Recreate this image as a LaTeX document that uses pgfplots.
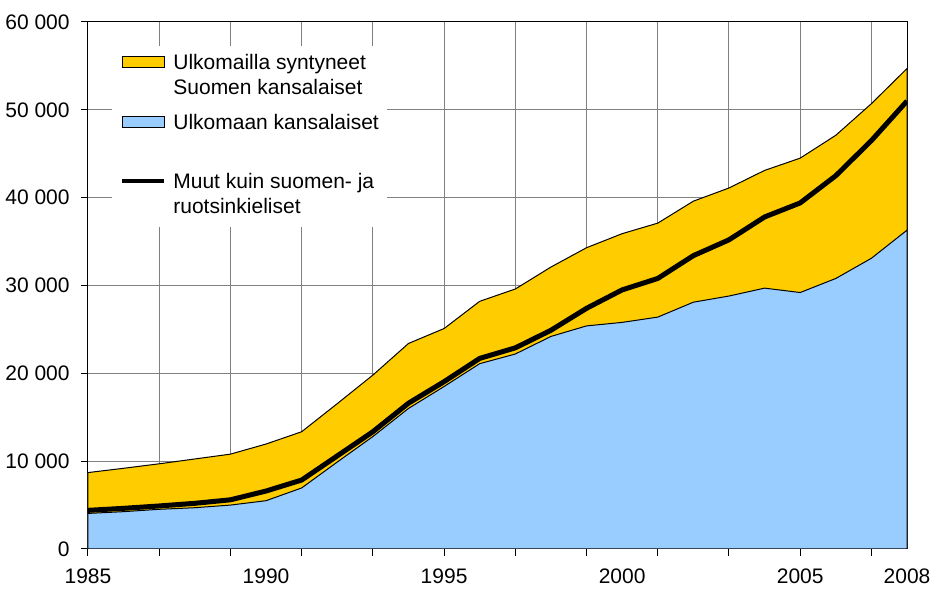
\documentclass[border=0pt]{standalone}
\usepackage{pgfplots}
\pgfplotsset{compat=1.18}
\usepackage{pgfplotstable}
\usepackage{fontspec}
\setmainfont{Liberation Sans}
\definecolor{myyellow}{RGB}{255,204,0}
\definecolor{myblue}{RGB}{153,204,255}
\definecolor{gridgray}{RGB}{128,128,128}

\pgfplotstableread{
year blue yellow black
1985 4050 4650 4400
1986 4250 4940 4630
1987 4520 5180 4900
1988 4700 5550 5200
1989 5000 5800 5600
1990 5500 6450 6600
1991 6950 6400 7850
1992 9900 6650 10600
1993 12800 7000 13350
1994 16000 7400 16600
1995 18500 6600 19050
1996 21100 7100 21700
1997 22200 7400 22900
1998 24200 7900 24900
1999 25400 8900 27400
2000 25800 10100 29500
2001 26400 10700 30800
2002 28100 11500 33400
2003 28800 12300 35200
2004 29700 13400 37800
2005 29200 15300 39400
2006 30800 16300 42500
2007 33100 17600 46500
2008 36300 18400 51000
}\datatable

\renewcommand{\arraystretch}{0.944}
\protected\def\legA{\begin{tabular}[t]{@{}l@{}}Ulkomailla syntyneet\\Suomen kansalaiset\end{tabular}}
\protected\def\legB{\begin{tabular}[t]{@{}l@{}}Ulkomaan kansalaiset\end{tabular}}
\protected\def\legC{\begin{tabular}[t]{@{}l@{}}Muut kuin suomen- ja\\ruotsinkieliset\end{tabular}}

\pgfplotsset{
  my area legend/.style={legend image code/.code={\draw[##1] (0pt,1pt) rectangle (21pt,6.5pt);}},
  my line legend/.style={legend image code/.code={\draw[##1] (0pt,3.75pt) -- (21pt,3.75pt);}},
}

\begin{document}
\fontsize{10.5}{13.5}\selectfont
\begin{tikzpicture}
\useasboundingbox (-44pt,-19.5pt) rectangle (421pt,274.5pt);
\begin{axis}[
  at={(0pt,0pt)}, anchor=south west,
  width=409.5pt, height=263.5pt, scale only axis,
  xmin=1985, xmax=2008, ymin=0, ymax=60000,
  xtick={1985,1987,...,2007}, xticklabels={},
  extra x ticks={1985,1990,1995,2000,2005,2008},
  extra x tick labels={1985,1990,1995,2000,2005,2008},
  extra x tick style={major tick length=0pt, grid=none},
  ytick={0,10000,...,60000},
  scaled y ticks=false,
  /pgf/number format/1000 sep={\ },
  /pgf/number format/assume math mode=true,
  tick align=outside, tick pos=left,
  major tick length=3.5pt,
  tick style={black, line width=0.5pt},
  axis line style={black, line width=0.5pt},
  xmajorgrids, ymajorgrids,
  major grid style={gridgray, line width=0.5pt},
  ticklabel style={font=\fontsize{10.5}{12}\selectfont},
  xticklabel style={yshift=-6pt},
  yticklabel style={xshift=-2pt},
  legend style={at={(axis description cs:0.0293,0.956)}, anchor=north west,
    draw=none, fill=white, inner xsep=4pt, inner ysep=3pt,
    nodes={inner sep=0pt, text depth={}},
    cells={anchor=base west}, row sep=4.4pt,
    /tikz/every odd column/.append style={column sep=3.5pt},
    font=\fontsize{10.5}{13.5}\selectfont},
]
\addlegendimage{my area legend, fill=myyellow, draw=black, line width=0.5pt}
\addlegendentry{\legA}
\addlegendimage{my area legend, fill=myblue, draw=black, line width=0.5pt}
\addlegendentry{\legB}
\addlegendimage{empty legend}
\addlegendentry{\rule{0pt}{7.95pt}}
\addlegendimage{my line legend, black, line width=2pt}
\addlegendentry{\legC}

\addplot[fill=myyellow, draw=black, line width=0.5pt, forget plot]
  table[x=year, y expr=\thisrow{blue}+\thisrow{yellow}]{\datatable} \closedcycle;
\addplot[fill=myblue, draw=black, line width=0.5pt, forget plot]
  table[x=year, y=blue]{\datatable} \closedcycle;
\addplot[black, line width=2.5pt, line join=round, forget plot]
  table[x=year, y=black]{\datatable};
\end{axis}
\end{tikzpicture}
\end{document}
